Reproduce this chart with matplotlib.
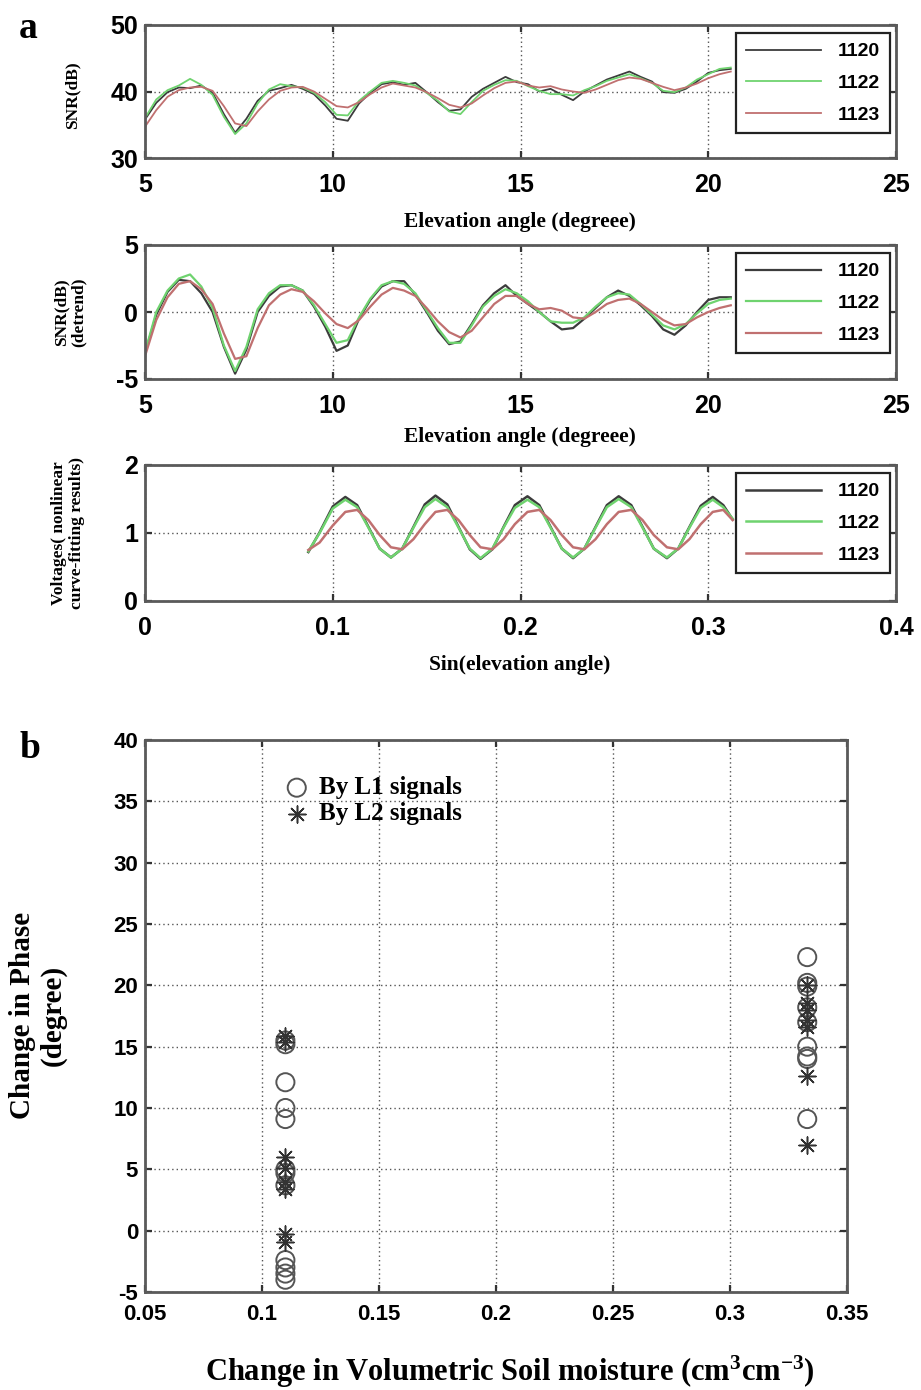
import numpy as np
import matplotlib
matplotlib.use("Agg")
import matplotlib.pyplot as plt

plt.rcParams["axes.unicode_minus"] = False
plt.rcParams["mathtext.fontset"] = "custom"
plt.rcParams["mathtext.rm"] = "Liberation Serif:bold"
plt.rcParams["mathtext.bf"] = "Liberation Serif:bold"
plt.rcParams["mathtext.default"] = "bf"

# ---------------- data ----------------
# elevation angle samples (degrees) for the SNR panels
elevation = np.round(np.arange(5.0, 20.65, 0.3), 2)

snr_1120 = [35.8, 38.3, 39.9, 40.6, 40.5, 40.9, 39.8, 36.6, 33.8, 35.9, 38.6, 40.1, 40.5, 41.0,
            40.4, 39.6, 37.9, 35.9, 35.6, 38.2, 39.8, 41.1, 41.4, 41.0, 41.3, 39.9, 38.4, 37.1,
            37.3, 39.2, 40.4, 41.3, 42.2, 41.4, 41.1, 40.0, 40.4, 39.5, 38.7, 40.0, 40.9, 41.8,
            42.4, 43.0, 42.2, 41.5, 39.9, 39.8, 40.4, 41.5, 42.8, 43.2, 43.4]
snr_1122 = [36.0, 38.8, 40.2, 40.9, 41.9, 41.0, 39.5, 36.2, 33.6, 35.2, 38.2, 40.3, 41.1, 40.8,
            40.6, 39.8, 38.4, 36.5, 36.4, 38.6, 40.0, 41.3, 41.6, 41.3, 40.9, 39.8, 38.6, 37.0,
            36.6, 38.4, 40.1, 41.0, 41.7, 41.6, 40.8, 40.1, 39.6, 39.6, 39.4, 40.2, 40.8, 41.6,
            42.1, 42.6, 42.0, 41.3, 40.1, 39.9, 40.6, 41.8, 42.6, 43.4, 43.6]
snr_1123 = [34.7, 37.2, 39.2, 40.2, 40.6, 40.7, 40.1, 37.8, 35.2, 34.8, 37.0, 38.8, 40.1, 40.6,
            40.7, 40.0, 38.9, 37.8, 37.6, 38.4, 39.6, 40.6, 41.2, 40.9, 40.6, 39.9, 39.0, 38.0,
            37.6, 38.2, 39.4, 40.5, 41.3, 41.5, 40.9, 40.6, 40.8, 40.3, 40.0, 39.8, 40.3, 41.0,
            41.7, 42.1, 41.9, 41.3, 40.7, 40.2, 40.6, 41.2, 42.0, 42.6, 43.0]

detr_1120 = [-3.1, -0.2, 1.5, 2.4, 2.3, 1.4, 0.0, -2.6, -4.6, -2.8, 0.0, 1.2, 1.9, 2.0,
             1.6, 0.4, -1.1, -2.9, -2.5, -0.5, 0.9, 1.9, 2.3, 2.3, 1.3, 0.0, -1.4, -2.4,
             -2.2, -0.9, 0.5, 1.4, 2.0, 1.2, 0.6, 0.0, -0.7, -1.3, -1.2, -0.5, 0.3, 1.1,
             1.6, 1.2, 0.5, -0.3, -1.3, -1.7, -1.0, 0.0, 0.9, 1.1, 1.1]
detr_1122 = [-3.0, 0.0, 1.6, 2.5, 2.8, 1.9, 0.3, -2.5, -4.4, -2.6, 0.2, 1.4, 2.0, 2.0,
             1.6, 0.5, -0.9, -2.3, -2.1, -0.4, 1.0, 2.0, 2.3, 2.1, 1.4, 0.1, -1.2, -2.3,
             -2.3, -1.0, 0.4, 1.2, 1.7, 1.4, 0.8, 0.0, -0.7, -0.8, -0.8, -0.4, 0.4, 1.1,
             1.4, 1.3, 0.6, -0.2, -1.0, -1.3, -0.9, -0.1, 0.6, 0.9, 1.0]
detr_1123 = [-3.3, -0.6, 1.1, 2.1, 2.3, 1.7, 0.6, -1.6, -3.5, -3.3, -1.2, 0.5, 1.3, 1.7,
             1.5, 0.8, -0.1, -0.9, -1.2, -0.6, 0.4, 1.3, 1.8, 1.6, 1.2, 0.3, -0.7, -1.5,
             -1.9, -1.4, -0.4, 0.6, 1.2, 1.2, 0.6, 0.2, 0.3, 0.1, -0.4, -0.5, 0.0, 0.6,
             0.9, 1.0, 0.6, 0.0, -0.6, -1.0, -0.9, -0.4, 0.0, 0.3, 0.5]

# sine of elevation angle and fitted voltages
sin_elev = [0.087, 0.093, 0.100, 0.1067, 0.113, 0.119, 0.125, 0.131, 0.137, 0.143, 0.149, 0.1547,
            0.161, 0.167, 0.173, 0.1787, 0.185, 0.191, 0.197, 0.2037, 0.210, 0.216, 0.222, 0.228,
            0.234, 0.240, 0.246, 0.2523, 0.259, 0.265, 0.271, 0.278, 0.284, 0.290, 0.296, 0.3024,
            0.308, 0.313]
volt_1120 = [0.72, 1.01, 1.39, 1.53, 1.41, 1.09, 0.77, 0.64, 0.77, 1.09, 1.42, 1.55, 1.42, 1.09,
             0.76, 0.62, 0.76, 1.09, 1.41, 1.54, 1.41, 1.09, 0.77, 0.63, 0.77, 1.09, 1.41, 1.54,
             1.41, 1.09, 0.77, 0.63, 0.77, 1.09, 1.40, 1.53, 1.41, 1.20]
volt_1122 = [0.73, 1.00, 1.36, 1.49, 1.38, 1.08, 0.77, 0.64, 0.77, 1.08, 1.38, 1.50, 1.38, 1.08,
             0.77, 0.63, 0.77, 1.08, 1.37, 1.49, 1.38, 1.08, 0.77, 0.64, 0.77, 1.08, 1.38, 1.50,
             1.38, 1.08, 0.77, 0.64, 0.77, 1.08, 1.37, 1.49, 1.38, 1.21]
volt_1123 = [0.75, 0.86, 1.11, 1.31, 1.34, 1.19, 0.97, 0.79, 0.76, 0.91, 1.13, 1.31, 1.34, 1.19,
             0.97, 0.79, 0.76, 0.91, 1.13, 1.31, 1.34, 1.19, 0.97, 0.79, 0.76, 0.91, 1.13, 1.31,
             1.34, 1.19, 0.97, 0.79, 0.76, 0.91, 1.13, 1.31, 1.34, 1.19]

days = ["1120", "1122", "1123"]
day_colors = ["#3c3c3c", "#6fd36f", "#c07070"]

# phase change vs. change in volumetric soil moisture
moist_l1 = [0.11] * 12 + [0.333] * 9
phase_l1 = [15.5, 15.2, 12.1, 10.0, 9.1, 5.0, 4.7, 3.7, -2.4, -3.0, -3.5, -4.0,
            22.3, 20.2, 19.9, 18.2, 17.0, 15.0, 14.2, 14.0, 9.1]
moist_l2 = [0.11] * 8 + [0.333] * 7
phase_l2 = [15.9, 15.4, 6.0, 5.1, 4.0, 3.4, -0.3, -0.9,
            20.0, 18.6, 18.0, 17.2, 16.6, 12.6, 7.0]

# ---------------- styling ----------------
SANS = ["Liberation Sans", "DejaVu Sans"]
SERIF = ["Liberation Serif", "DejaVu Serif"]
EDGE = "#5a5a5a"

W, H = 921, 1390
fig = plt.figure(figsize=(W / 100, H / 100), dpi=100)


def px_axes(x0, y0, x1, y1):
    return fig.add_axes([x0 / W, 1 - y1 / H, (x1 - x0) / W, (y1 - y0) / H])


def style(ax, tick_size, xpad):
    for s in ax.spines.values():
        s.set_color(EDGE)
        s.set_linewidth(2.0)
    ax.tick_params(direction="in", top=True, right=True, length=5, width=1.6,
                   color="#333333", labelsize=tick_size, pad=5)
    ax.tick_params(axis="x", pad=xpad)
    for lab in ax.get_xticklabels() + ax.get_yticklabels():
        lab.set_fontfamily(SANS)
        lab.set_fontweight("bold")
    ax.grid(True, linestyle=(0, (1, 2.2)), color="#555555", linewidth=1.0)
    ax.set_axisbelow(True)


def day_legend(ax):
    leg = ax.legend(loc="upper right", bbox_to_anchor=(0.992, 0.94), borderaxespad=0,
                    fancybox=False, edgecolor="#222222", framealpha=1, handlelength=3.9,
                    handletextpad=0.85, borderpad=0.5, labelspacing=0.72,
                    prop={"family": SANS, "weight": "bold", "size": 14})
    leg.get_frame().set_linewidth(1.6)


# ---- panel a (1): raw SNR ----
ax1 = px_axes(145, 25, 896, 158)
for y, c, d in zip([snr_1120, snr_1122, snr_1123], day_colors, days):
    ax1.plot(elevation, y, color=c, lw=1.3, label=d)
ax1.set_xlim(5, 25)
ax1.set_ylim(30, 50)
ax1.set_xticks([5, 10, 15, 20, 25])
ax1.set_yticks([30, 40, 50])
style(ax1, 18, 11)
day_legend(ax1)

# ---- panel a (2): detrended SNR ----
ax2 = px_axes(145, 245, 896, 379)
for y, c, d in zip([detr_1120, detr_1122, detr_1123], day_colors, days):
    ax2.plot(elevation, y, color=c, lw=1.6, label=d)
ax2.set_xlim(5, 25)
ax2.set_ylim(-5, 5)
ax2.set_xticks([5, 10, 15, 20, 25])
ax2.set_yticks([-5, 0, 5])
style(ax2, 18, 11)
day_legend(ax2)

# ---- panel a (3): fitted voltages ----
ax3 = px_axes(145, 465, 896, 601)
for y, c, d in zip([volt_1120, volt_1122, volt_1123], day_colors, days):
    ax3.plot(sin_elev, y, color=c, lw=1.8, label=d)
ax3.set_xlim(0, 0.4)
ax3.set_ylim(0, 2)
ax3.set_xticks([0, 0.1, 0.2, 0.3, 0.4])
ax3.set_xticklabels(["0", "0.1", "0.2", "0.3", "0.4"])
ax3.set_yticks([0, 1, 2])
style(ax3, 18, 11)
day_legend(ax3)

# ---- panel b: phase change vs soil moisture ----
axb = px_axes(145, 740, 847, 1292)
axb.scatter(moist_l1, phase_l1, s=170, facecolors="none", edgecolors="#555555",
            linewidths=1.4, marker="o", label="By L1 signals", zorder=3)
axb.scatter(moist_l2, phase_l2, s=150, color="#333333", linewidths=1.1,
            marker=(8, 2, 0), label="By L2 signals", zorder=3)
axb.set_xlim(0.05, 0.35)
axb.set_ylim(-5, 40)
xt = [0.05, 0.1, 0.15, 0.2, 0.25, 0.3, 0.35]
axb.set_xticks(xt)
axb.set_xticklabels(["0.05", "0.1", "0.15", "0.2", "0.25", "0.3", "0.35"])
axb.set_yticks(range(-5, 41, 5))
style(axb, 16, 9)
legb = axb.legend(loc="upper left", bbox_to_anchor=(0.177, 0.957), frameon=False,
                  handletextpad=0.3, labelspacing=0.12, borderpad=0, scatterpoints=1,
                  handlelength=1.2,
                  prop={"family": SERIF, "weight": "bold", "size": 18})

# ---------------- labels ----------------
def ftext(x, y, s, size, rot=0, family=SERIF, **kw):
    fig.text(x / W, 1 - y / H, s, fontsize=size, rotation=rot, family=family,
             fontweight="bold", ha="center", va="center", **kw)


ftext(28, 28, "a", 27)
ftext(30, 748, "b", 27)

ftext(520, 222, "Elevation angle (degreee)", 15.5)
ftext(520, 437, "Elevation angle (degreee)", 15.5)
ftext(520, 665, "Sin(elevation angle)", 15.5)
ftext(72, 95, "SNR(dB)", 12.5, rot=90)
ftext(70, 312, "SNR(dB)\n(detrend)", 12.5, rot=90, linespacing=1.1)
ftext(68, 533, "Voltages( nonlinear\ncurve-fitting results)", 12.5, rot=90, linespacing=1.1)

ftext(38, 1015, "Change in Phase\n(degree)", 21, rot=90, linespacing=1.15)
ftext(510, 1372, "Change in Volumetric Soil moisture (cm$^{3}$cm$^{-3}$)", 22)

fig.savefig("out.png", dpi=100, facecolor="white")
